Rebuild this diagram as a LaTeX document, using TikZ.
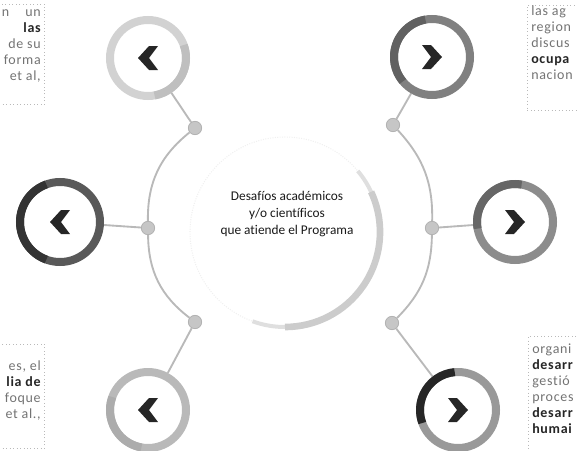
\documentclass[tikz,border=0pt]{standalone}
\usepackage{fontspec}
\setmainfont{Carlito}[RawFeature=-liga]
\usetikzlibrary{backgrounds}
\begin{document}
\begin{tikzpicture}[x=0.75pt,y=-0.75pt,
  ring/.style={circle, draw, inner sep=0pt, minimum size=57pt, line width=6pt},
  joint/.style={circle, fill=gray!45, draw=gray!60, line width=0.6pt, inner sep=0pt, minimum size=10pt},
  link/.style={draw=gray!55, line width=1.4pt},
  tbox/.style={draw=gray!55, dotted, line width=0.6pt, inner sep=0pt},
  sidetxt/.style={font=\fontsize{10.5}{12}\selectfont\addfontfeatures{LetterSpace=5}, text=black!55, inner sep=0pt},
  chevl/.pic={\fill[black!85] (-10,0) -- (1,-12) -- (10,-12) -- (1,0) -- (10,12) -- (1,12) -- cycle;},
  chevr/.pic={\fill[black!85] (10,0) -- (-1,-12) -- (-10,-12) -- (-1,0) -- (-10,12) -- (-1,12) -- cycle;},
]
\useasboundingbox (0,0) rectangle (577,450);

% central circle
\node[circle, minimum size=142.5pt, inner sep=0pt, draw=gray!12, densely dotted, line width=0.8pt] (ctr) at (285,232) {};
\draw[gray!25, line width=3pt] (ctr.center) ++(40:71.25pt) arc[start angle=40, end angle=-110, radius=71.25pt];
\draw[gray!40, line width=5pt] (ctr.center) ++(25:71.25pt) arc[start angle=25, end angle=-90, radius=71.25pt];
\node[align=center, font=\fontsize{10}{12.75}\selectfont, text=black!90, inner sep=0pt] (title) at (287,214)
  {Desafíos académicos\\ y/o científicos\\ que atiende el Programa};

% rings
\node[ring, draw=gray!35] (clt) at (148,58) {};
\node[ring, draw=black!65, minimum size=60pt] (clm) at (60,222) {};
\node[ring, draw=gray!55] (clb) at (148,410) {};
\node[ring, draw=black!50] (crt) at (432,57) {};
\node[ring, draw=black!45] (crm) at (515,222) {};
\node[ring, draw=black!40] (crb) at (458,410) {};

% darker ring parts
\draw[black!80, line width=6pt] (clm.center) ++(110:30pt) arc[start angle=110, end angle=250, radius=30pt];
\draw[black!62, line width=6pt] (crt.center) ++(100:28.5pt) arc[start angle=100, end angle=220, radius=28.5pt];
\draw[black!60, line width=6pt] (crm.center) ++(80:28.5pt) arc[start angle=80, end angle=190, radius=28.5pt];
\draw[black!85, line width=6pt] (crb.center) ++(95:28.5pt) arc[start angle=95, end angle=200, radius=28.5pt];
\draw[gray!50, line width=6pt] (clt.center) ++(-80:28.5pt) arc[start angle=-80, end angle=20, radius=28.5pt];
\draw[gray!65, line width=6pt] (clb.center) ++(160:28.5pt) arc[start angle=160, end angle=260, radius=28.5pt];

% chevrons
\path (clt.center) pic {chevl};
\path (clm.center) pic {chevl};
\path (clb.center) pic {chevl};
\path (crt.center) pic {chevr};
\path (crm.center) pic {chevr};
\path (crb.center) pic {chevr};

% joints
\node[joint] (jlt) at (195,128) {};
\node[joint] (jlm) at (148,228) {};
\node[joint] (jlb) at (195,322) {};
\node[joint] (jrt) at (393,125) {};
\node[joint] (jrm) at (432,228) {};
\node[joint] (jrb) at (392,323) {};

\begin{scope}[on background layer]
\draw[link] (jlt) to[bend right=26] (jlm);
\draw[link] (jlm) to[bend right=26] (jlb);
\draw[link] (jrt) to[bend left=22] (jrm);
\draw[link] (jrm) to[bend left=22] (jrb);
\draw[link] (jlt) -- (clt);
\draw[link] (jlm) -- (clm);
\draw[link] (jlb) -- (clb);
\draw[link] (jrt) -- (crt);
\draw[link] (jrm) -- (crm);
\draw[link] (jrb) -- (crb);
\end{scope}

% text boxes
\node[tbox, anchor=north east, minimum width=60pt, minimum height=75pt] (btl) at (45,4) {};
\node[tbox, anchor=north east, minimum width=60pt, minimum height=78pt] (bbl) at (45,344) {};
\node[tbox, anchor=north west, minimum width=60pt, minimum height=79pt] (btr) at (527,5) {};
\node[tbox, anchor=north west, minimum width=60pt, minimum height=90pt] (bbr) at (528,336) {};

\node[sidetxt, align=right, anchor=north east] (ttl) at (41,9)
  {n\hspace{12pt}un\\ \textbf{\color{black!85}las}\\ de su\\ forma\\ et al,};
\node[sidetxt, align=right, anchor=north east] (tbl) at (41,361)
  {es, el\\ \textbf{\color{black!85}lia de}\\ foque\\ et al.,};
\node[sidetxt, align=left, anchor=north west] (ttr) at (531,6)
  {las ag\\ region\\ discus\\ \textbf{\color{black!85}ocupa}\\ nacion};
\node[sidetxt, align=left, anchor=north west] (tbr) at (532,344)
  {organi\\ \textbf{\color{black!85}desarr}\\ gestió\\ proces\\ \textbf{\color{black!85}desarr}\\ \textbf{\color{black!85}humai}};
\end{tikzpicture}
\end{document}
